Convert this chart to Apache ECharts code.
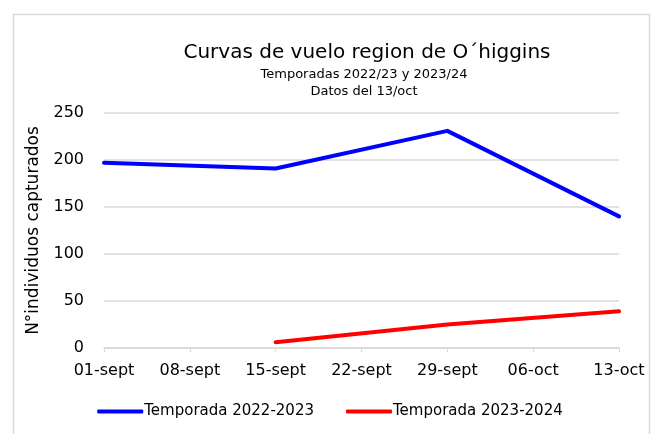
<!DOCTYPE html>
<html>
<head>
<meta charset="utf-8">
<title>Curvas de vuelo</title>
<script src="https://cdn.jsdelivr.net/npm/echarts@6/dist/echarts.min.js"></script>
<style>
  body { margin: 0; padding: 0; background: #fff; }
  #main { width: 660px; height: 434px; }
</style>
</head>
<body>
<div id="main"></div>
<script>
// fechas de muestreo (semanales)
var categorias = ['01-sept', '08-sept', '15-sept', '22-sept', '29-sept', '06-oct', '13-oct'];
// capturas, null = sin dato
var temporada2223 = [197, null, 191, null, 231, null, 140];
var temporada2324 = [null, null, 6, null, 25, null, 39];
var nombres = ['Temporada 2022-2023', 'Temporada 2023-2024'];

var fuente = 'DejaVu Sans';
var myChart = echarts.init(document.getElementById('main'));

myChart.setOption({
  animation: false,
  backgroundColor: '#fff',
  title: [
    { text: 'Curvas de vuelo region de O´higgins', left: 362, top: 38, textAlign: 'center',
      textStyle: { fontFamily: fuente, fontSize: 20, fontWeight: 'normal', color: '#000' } },
    { text: 'Temporadas 2022/23 y 2023/24', left: 359, top: 63, textAlign: 'center',
      textStyle: { fontFamily: fuente, fontSize: 13, fontWeight: 'normal', color: '#000' } },
    { text: 'Datos del 13/oct', left: 359, top: 80, textAlign: 'center',
      textStyle: { fontFamily: fuente, fontSize: 13, fontWeight: 'normal', color: '#000' } }
  ],
  graphic: [{
    type: 'rect', left: 11, top: 12,
    shape: { width: 636, height: 430 },
    style: { fill: 'none', stroke: '#d9d9d9', lineWidth: 1.5 }
  }],
  legend: {
    bottom: 10, left: 'center', itemGap: 32, itemWidth: 46, itemHeight: 4,
    icon: 'roundRect',
    textStyle: { fontFamily: fuente, fontSize: 15, color: '#000', padding: [0, 0, 0, -4] },
    data: nombres
  },
  grid: { left: 104, right: 41, top: 113, bottom: 86 },
  xAxis: {
    type: 'category', data: categorias, boundaryGap: false,
    axisLine: { lineStyle: { color: '#d9d9d9', width: 1.5 } },
    axisTick: { show: true, alignWithLabel: true, length: 4, lineStyle: { color: '#d9d9d9' } },
    axisLabel: { fontFamily: fuente, fontSize: 16, color: '#000', margin: 15 }
  },
  yAxis: {
    type: 'value', min: 0, max: 250, interval: 50,
    name: 'N°individuos capturados', nameLocation: 'middle', nameGap: 60,
    nameTextStyle: { fontFamily: fuente, fontSize: 17, color: '#000' },
    axisLine: { show: false }, axisTick: { show: false },
    axisLabel: { fontFamily: fuente, fontSize: 16, color: '#000', margin: 20 },
    splitLine: { lineStyle: { color: '#d9d9d9', width: 1.5 } }
  },
  series: [
    { name: nombres[0], type: 'line', data: temporada2223, connectNulls: true,
      symbol: 'none', color: '#0000ff',
      lineStyle: { width: 4, cap: 'round', join: 'round' } },
    { name: nombres[1], type: 'line', data: temporada2324, connectNulls: true,
      symbol: 'none', color: '#ff0000',
      lineStyle: { width: 4, cap: 'round', join: 'round' } }
  ]
});
</script>
</body>
</html>
